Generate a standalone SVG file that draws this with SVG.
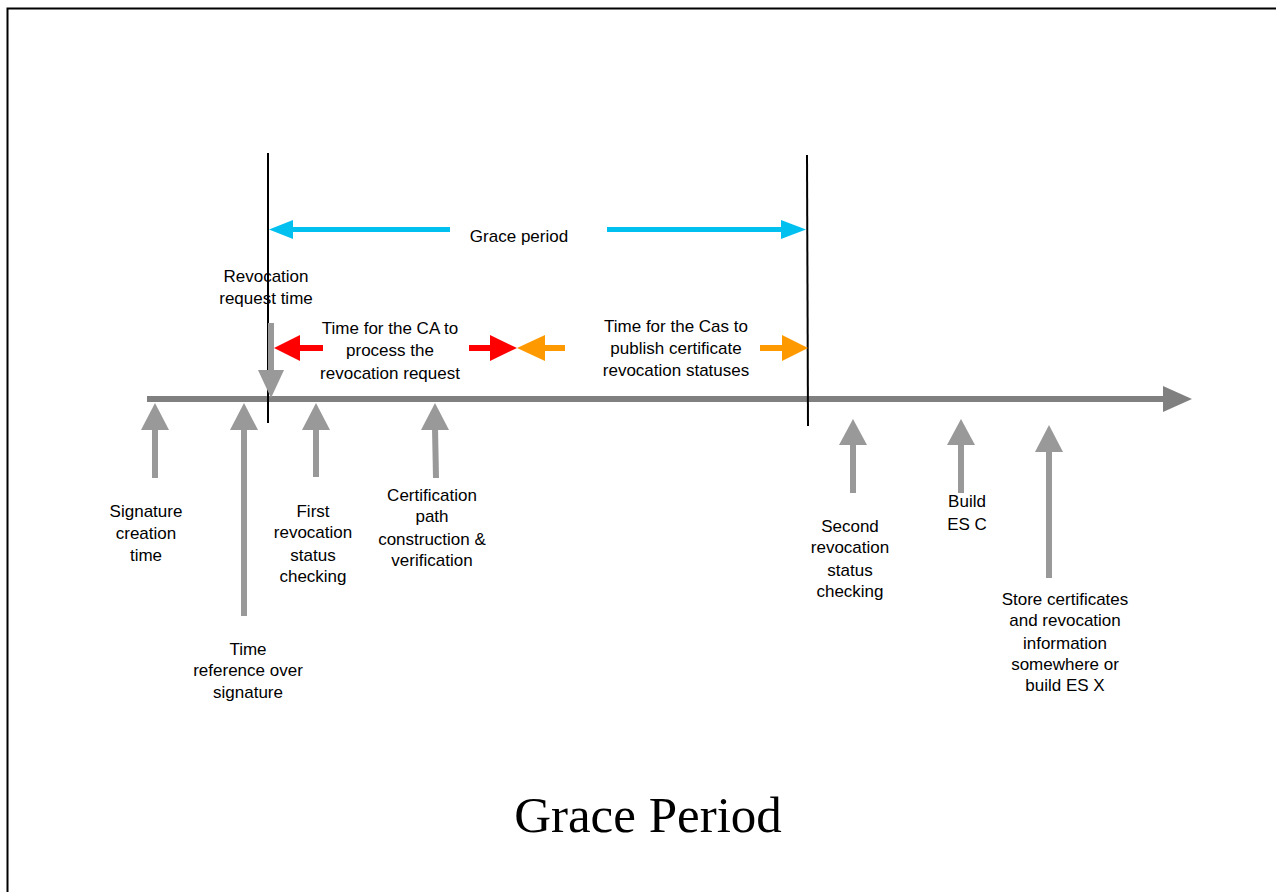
<svg xmlns="http://www.w3.org/2000/svg" width="1276" height="892" viewBox="0 0 1276 892">
<style>
.t{font-family:"Liberation Sans",Arial,sans-serif;font-size:17px;fill:#000;text-anchor:middle}
.title{font-family:"Liberation Serif","Times New Roman",serif;font-size:51px;fill:#000;text-anchor:middle}
.up{fill:#999999}
.vl{stroke:#000;stroke-width:2;fill:none}
</style>
<rect x="0" y="0" width="1276" height="892" fill="#fff"/>
<rect x="7.5" y="8.5" width="1300" height="900" fill="none" stroke="#000" stroke-width="2"/>
<g id="connectors">
  <!-- timeline -->
  <g id="timeline">
    <rect x="147" y="396" width="1020" height="6" fill="#808080"/>
    <polygon points="1163,386 1192,399 1163,412" fill="#808080"/>
  </g>
  <!-- boundary lines -->
  <line class="vl" x1="268" y1="153" x2="268" y2="423"/>
  <line class="vl" x1="807" y1="155" x2="808" y2="426"/>
  <!-- grace period cyan arrows -->
  <g fill="#00C0F0">
    <rect x="292" y="227" width="158" height="5"/>
    <polygon points="269,229.5 293,220 293,239"/>
    <rect x="607" y="227" width="175" height="5"/>
    <polygon points="806,229.5 781,220 781,239"/>
  </g>
  <!-- red arrows -->
  <g fill="#FF0000">
    <rect x="298" y="345" width="25" height="6"/>
    <polygon points="274,348 300,335 300,361"/>
    <rect x="469" y="345" width="23" height="6"/>
    <polygon points="517,348 490,335 490,361"/>
  </g>
  <!-- orange arrows -->
  <g fill="#FF9900">
    <rect x="543" y="345" width="22" height="6"/>
    <polygon points="517,348 545,335 545,361"/>
    <rect x="760" y="345" width="24" height="6"/>
    <polygon points="808,348 782,335 782,361"/>
  </g>
</g>
<g id="revocation-request">
  <rect x="268" y="323" width="6" height="48" class="up"/>
  <polygon points="258,370 284,370 271,398" class="up"/>
  <text class="t" x="266" y="282">Revocation</text>
  <text class="t" x="266" y="304">request time</text>
</g>
<g id="grace-period-label">
  <text class="t" x="519" y="242">Grace period</text>
</g>
<g id="ca-process">
  <text class="t" x="390" y="334">Time for the CA to</text>
  <text class="t" x="390" y="356">process the</text>
  <text class="t" x="390" y="379">revocation request</text>
</g>
<g id="ca-publish">
  <text class="t" x="676" y="332">Time for the Cas to</text>
  <text class="t" x="676" y="354">publish certificate</text>
  <text class="t" x="676" y="376">revocation statuses</text>
</g>
<g id="signature-creation">
  <rect x="152" y="428" width="6" height="50" class="up"/>
  <polygon points="155,403 169,430 141,430" class="up"/>
  <text class="t" x="146" y="517">Signature</text>
  <text class="t" x="146" y="539">creation</text>
  <text class="t" x="146" y="561">time</text>
</g>
<g id="time-reference">
  <rect x="241" y="428" width="6" height="188" class="up"/>
  <polygon points="244,403 258,430 230,430" class="up"/>
  <text class="t" x="248" y="655">Time</text>
  <text class="t" x="248" y="676">reference over</text>
  <text class="t" x="248" y="698">signature</text>
</g>
<g id="first-check">
  <rect x="313" y="428" width="6" height="49" class="up"/>
  <polygon points="316,403 330,430 302,430" class="up"/>
  <text class="t" x="313" y="517">First</text>
  <text class="t" x="313" y="538">revocation</text>
  <text class="t" x="313" y="561">status</text>
  <text class="t" x="313" y="582">checking</text>
</g>
<g id="cert-path">
  <polygon points="432,428 438,428 439,478 433,478" class="up"/>
  <polygon points="435,403 449,430 421,430" class="up"/>
  <text class="t" x="432" y="501">Certification</text>
  <text class="t" x="432" y="522">path</text>
  <text class="t" x="432" y="545">construction &amp;</text>
  <text class="t" x="432" y="566">verification</text>
</g>
<g id="second-check">
  <rect x="850" y="443" width="6" height="50" class="up"/>
  <polygon points="853,419 867,445 839,445" class="up"/>
  <text class="t" x="850" y="532">Second</text>
  <text class="t" x="850" y="553">revocation</text>
  <text class="t" x="850" y="576">status</text>
  <text class="t" x="850" y="597">checking</text>
</g>
<g id="build-esc">
  <rect x="958" y="443" width="6" height="50" class="up"/>
  <polygon points="961,419 975,445 947,445" class="up"/>
  <text class="t" x="967" y="507">Build</text>
  <text class="t" x="967" y="530">ES C</text>
</g>
<g id="store-esx">
  <rect x="1046" y="450" width="6" height="128" class="up"/>
  <polygon points="1049,425 1063,452 1035,452" class="up"/>
  <text class="t" x="1065" y="605">Store certificates</text>
  <text class="t" x="1065" y="626">and revocation</text>
  <text class="t" x="1065" y="649">information</text>
  <text class="t" x="1065" y="670">somewhere or</text>
  <text class="t" x="1065" y="691">build ES X</text>
</g>
<g id="title">
  <text class="title" x="648" y="832">Grace Period</text>
</g>
</svg>
